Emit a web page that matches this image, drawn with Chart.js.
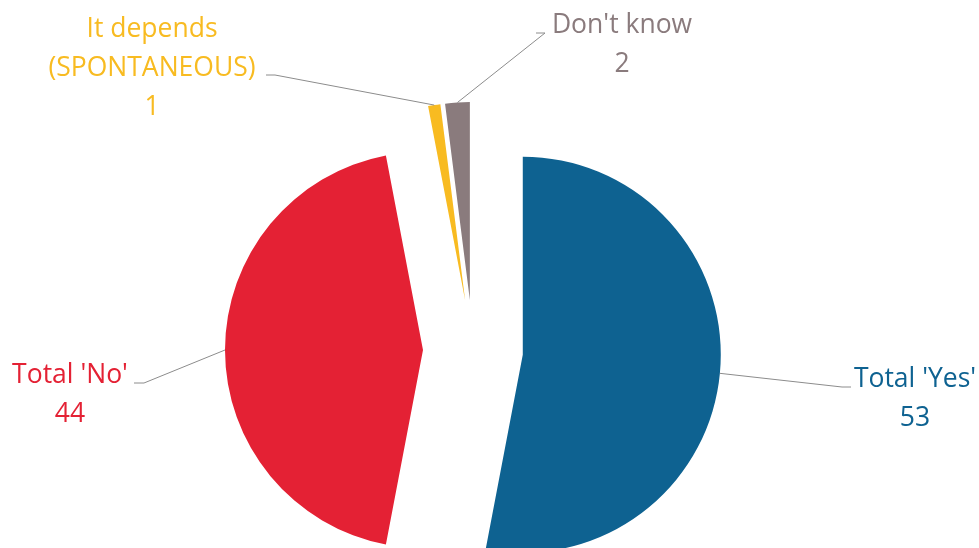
<!DOCTYPE html>
<html>
<head>
<meta charset="utf-8">
<script src="https://cdn.jsdelivr.net/npm/chart.js@4"></script>
<style>
    html, body { margin: 0; padding: 0; background: #fff; }
    #wrap { position: relative; width: 979px; height: 548px; }
</style>
</head>
<body>
<div id="wrap"><canvas id="chartResposta" width="979" height="548"></canvas></div>
<script>
// Categorias e valores (%)
const categorias = ["Total 'Yes'", "Total 'No'", ['It depends', '(SPONTANEOUS)'], "Don't know"];
const valores = [53, 44, 1, 2];
const cores = ['#0e6291', '#e42134', '#f8bb21', '#8a7b7d'];

// Posição dos rótulos: centro do texto, primeira linha de base, cotovelo e fim da linha guia
const posRotulos = [
    { x: 915, y: 387, cotovelo: [842, 387], fim: [851, 387] },
    { x: 70, y: 383, cotovelo: [144, 383], fim: [134, 383] },
    { x: 152, y: 37, cotovelo: [275, 75], fim: [266, 75] },
    { x: 622, y: 33, cotovelo: [545, 33], fim: [536, 33] }
];

const EXPLOSAO = 50;
const ALTURA_LINHA = 39;

function deslocamento(arc) {
    const meio = (arc.startAngle + arc.endAngle) / 2;
    return { dx: Math.cos(meio) * EXPLOSAO, dy: Math.sin(meio) * EXPLOSAO, meio };
}

// Desenha cada fatia afastada do centro
const fatiasExplodidas = {
    id: 'fatiasExplodidas',
    beforeDatasetDraw(chart, args) {
        const ctx = chart.ctx;
        args.meta.data.forEach(arc => {
            const { dx, dy } = deslocamento(arc);
            ctx.save();
            ctx.translate(dx, dy);
            arc.draw(ctx);
            ctx.restore();
        });
        return false;
    }
};

// Rótulos com linhas guia
const rotulos = {
    id: 'rotulos',
    afterDatasetsDraw(chart) {
        const ctx = chart.ctx;
        const meta = chart.getDatasetMeta(0);
        meta.data.forEach((arc, i) => {
            const { dx, dy, meio } = deslocamento(arc);
            const px = arc.x + dx + Math.cos(meio) * arc.outerRadius;
            const py = arc.y + dy + Math.sin(meio) * arc.outerRadius;
            const pos = posRotulos[i];

            ctx.save();
            ctx.strokeStyle = '#8c8c8c';
            ctx.lineWidth = 1;
            ctx.beginPath();
            ctx.moveTo(px, py);
            ctx.lineTo(pos.cotovelo[0], pos.cotovelo[1]);
            ctx.lineTo(pos.fim[0], pos.fim[1]);
            ctx.stroke();

            const nome = chart.data.labels[i];
            const linhas = (Array.isArray(nome) ? nome : [nome]).concat(String(valores[i]));
            ctx.fillStyle = cores[i];
            ctx.font = "26.5px 'Open Sans', sans-serif";
            ctx.textAlign = 'center';
            ctx.textBaseline = 'alphabetic';
            linhas.forEach((txt, k) => ctx.fillText(txt, pos.x, pos.y + k * ALTURA_LINHA));
            ctx.restore();
        });
    }
};

new Chart(document.getElementById('chartResposta'), {
    type: 'pie',
    data: {
        labels: categorias,
        datasets: [{
            data: valores,
            backgroundColor: cores,
            borderWidth: 0
        }]
    },
    options: {
        responsive: false,
        animation: false,
        radius: 198,
        layout: { padding: { top: 152, left: 0, right: 33, bottom: 0 } },
        plugins: {
            legend: { display: false },
            tooltip: { enabled: false }
        }
    },
    plugins: [fatiasExplodidas, rotulos]
});
</script>
</body>
</html>
